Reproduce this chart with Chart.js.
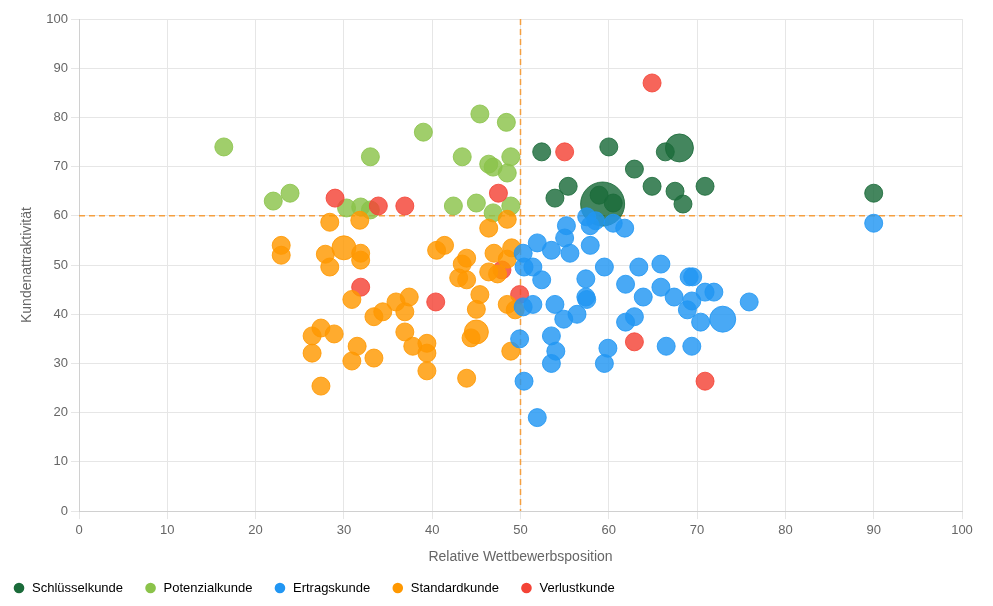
<!DOCTYPE html>
<html>
<head>
<meta charset="utf-8">
<script src="https://cdn.jsdelivr.net/npm/chart.js@4"></script>
<style>
  html, body { margin: 0; padding: 0; background: #fff; }
  #wrap { width: 993px; height: 606px; }
</style>
</head>
<body>
<div id="wrap"><canvas id="portfolio"></canvas></div>
<script>
const categories = ['Schlüsselkunde', 'Potenzialkunde', 'Ertragskunde', 'Standardkunde', 'Verlustkunde'];
const colors = ['#1b6b3a', '#8bc34a', '#2196f3', '#ff9800', '#f44336'];
// stacking: lower value is painted on top
const drawOrder = [4, 3, 0, 1, 2];

// [relative Wettbewerbsposition, Kundenattraktivität, Radius]
const schluessel = [
  [52.4, 73], [60, 74], [62.9, 69.5], [66.4, 73], [68, 73.8, 14], [55.4, 66], [53.9, 63.6],
  [64.9, 66], [67.5, 65], [70.9, 66], [68.4, 62.4], [59.3, 62.4, 22], [58.9, 64.2], [60.5, 62.6], [90, 64.6]
];
const potenzial = [
  [16.4, 74], [22, 63], [23.9, 64.6], [33, 72], [39, 77], [45.4, 80.7], [48.4, 79], [43.4, 72],
  [46.4, 70.5], [46.9, 69.9], [48.5, 68.7], [48.9, 72], [30.3, 61.6], [31.9, 61.8], [33, 61.2],
  [42.4, 62], [45, 62.6], [46.9, 60.6], [48.9, 62]
];
const ertrag = [
  [90, 58.5], [51.9, 54.5], [50.3, 52.4], [53.5, 53], [55, 55.5], [55.2, 58], [55.6, 52.4], [57.9, 54],
  [57.9, 58], [61.8, 57.5], [50.4, 49.6], [51.4, 49.6], [52.4, 47], [57.4, 47.2], [59.5, 49.6],
  [63.4, 49.6], [65.9, 50.2], [61.9, 46.1], [63.9, 43.5], [65.9, 45.5], [67.4, 43.5], [69.1, 47.6],
  [69.5, 47.6], [70.9, 44.5], [71.9, 44.5], [69.4, 42.7], [68.9, 40.9], [70.4, 38.4], [72.9, 39, 13],
  [75.9, 42.5], [57.4, 43.5], [57.5, 43], [53.9, 42], [54.9, 39], [56.4, 40], [51.4, 42], [50.3, 41.5],
  [49.9, 35], [53.5, 35.6], [54, 32.5], [53.5, 30], [59.9, 33.1], [59.5, 30], [61.9, 38.4], [62.9, 39.5],
  [66.5, 33.5], [69.4, 33.5], [50.4, 26.4], [51.9, 19], [57.5, 59.8], [60.5, 58.5], [58.5, 59]
];
const standard = [
  [22.9, 54], [22.9, 52], [28.4, 58.7], [30, 53.5, 12], [31.8, 59.1], [31.9, 52.4], [31.9, 51],
  [27.9, 52.2], [28.4, 49.6], [40.5, 53], [41.4, 54], [43, 47.4], [43.4, 50.2], [43.9, 51.4], [43.9, 47],
  [46.4, 57.5], [48.5, 59.3], [47, 52.4], [49, 53.5], [48.5, 51.2], [46.4, 48.6], [47.4, 48.2],
  [30.9, 43], [33.4, 39.5], [34.4, 40.5], [35.9, 42.5], [37.4, 43.5], [36.9, 40.5], [45.4, 44], [45, 41],
  [48.5, 42], [49.4, 40.9], [45, 36.4, 12], [44.4, 35.2], [48.9, 32.5], [36.9, 36.4], [37.8, 33.5],
  [39.4, 34.1], [39.4, 32.1], [39.4, 28.5], [43.9, 27], [26.4, 35.6], [27.4, 37.2], [28.9, 36],
  [26.4, 32.1], [31.5, 33.5], [30.9, 30.5], [33.4, 31.1], [27.4, 25.4]
];
const verlust = [
  [64.9, 87], [55, 73], [29, 63.6], [33.9, 62], [36.9, 62], [47.5, 64.6], [31.9, 45.5], [40.4, 42.5],
  [47.9, 49], [49.9, 44], [62.9, 34.4], [70.9, 26.4]
];
const thresholdX = 50;
const thresholdY = 60;

function toBubbles(rows) {
  return rows.map(([x, y, r]) => ({x: x, y: y, r: r || 9}));
}

function fade(hex, a) {
  const n = parseInt(hex.slice(1), 16);
  return 'rgba(' + (n >> 16) + ',' + ((n >> 8) & 255) + ',' + (n & 255) + ',' + a + ')';
}

const groups = [schluessel, potenzial, ertrag, standard, verlust];

// dashed threshold lines, drawn under the bubbles
const thresholdLines = {
  id: 'thresholdLines',
  beforeDatasetsDraw(chart) {
    const {ctx, chartArea, scales} = chart;
    const px = scales.x.getPixelForValue(thresholdX);
    const py = scales.y.getPixelForValue(thresholdY);
    ctx.save();
    ctx.strokeStyle = '#f5a040';
    ctx.lineWidth = 1.5;
    ctx.setLineDash([6, 4]);
    ctx.beginPath();
    ctx.moveTo(px, chartArea.top);
    ctx.lineTo(px, chartArea.bottom);
    ctx.moveTo(chartArea.left, py);
    ctx.lineTo(chartArea.right, py);
    ctx.stroke();
    ctx.restore();
  }
};

Chart.defaults.font.family = '"Liberation Sans", Arial, sans-serif';
Chart.defaults.color = '#666';

const chart = new Chart(document.getElementById('portfolio'), {
  type: 'bubble',
  data: {
    datasets: categories.map((label, i) => ({
      label: label,
      data: toBubbles(groups[i]),
      order: drawOrder[i],
      backgroundColor: fade(colors[i], 0.82),
      borderColor: fade(colors[i], 0.85),
      borderWidth: 1,
      hoverRadius: 0
    }))
  },
  options: {
    responsive: true,
    maintainAspectRatio: false,
    animation: false,
    layout: { padding: { top: 19, right: 31, left: -8.5, bottom: 1.5 } },
    scales: {
      x: {
        min: 0, max: 100,
        ticks: { stepSize: 10, padding: 4, font: { size: 13 }, color: '#666' },
        grid: { color: '#e6e6e6' },
        border: { color: '#d0d0d0' },
        title: {
          display: true, text: 'Relative Wettbewerbsposition',
          font: { size: 14 }, color: '#666', padding: { top: 6, bottom: -5 }
        }
      },
      y: {
        min: 0, max: 100,
        afterFit(scale) { scale.width = 87.5; },
        ticks: { stepSize: 10, font: { size: 13 }, color: '#666' },
        grid: { color: '#e6e6e6' },
        border: { color: '#d0d0d0' },
        title: {
          display: true, text: 'Kundenattraktivität',
          font: { size: 14 }, color: '#666', padding: { top: 27, bottom: 4 }
        }
      }
    },
    plugins: {
      legend: {
        position: 'bottom',
        align: 'start',
        labels: {
          usePointStyle: true,
          pointStyle: 'circle',
          boxWidth: 13,
          boxHeight: 7.5,
          padding: 21,
          font: { size: 13 },
          color: '#666',
          generateLabels(chart) {
            return chart.data.datasets.map((ds, i) => ({
              text: ds.label,
              fillStyle: colors[i],
              strokeStyle: colors[i],
              lineWidth: 0,
              pointStyle: 'circle',
              hidden: !chart.isDatasetVisible(i),
              datasetIndex: i
            }));
          }
        }
      },
      tooltip: { enabled: true }
    }
  },
  plugins: [thresholdLines]
});

// let the big bubbles overlap the frame instead of shrinking the plot area
chart.data.datasets.forEach((ds, i) => {
  chart.getDatasetMeta(i).controller.getMaxOverflow = () => false;
});
chart.update();
</script>
</body>
</html>
